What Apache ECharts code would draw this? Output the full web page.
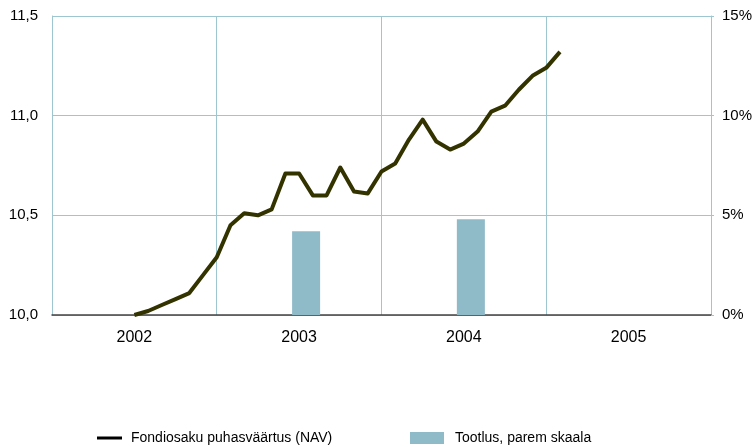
<!DOCTYPE html>
<html>
<head>
<meta charset="utf-8">
<script src="https://cdn.jsdelivr.net/npm/echarts@6/dist/echarts.min.js"></script>
<style>html,body{margin:0;padding:0;background:#fff}#c{width:755px;height:447px}</style>
</head>
<body>
<div id="c"></div>
<script>
const years = ['2002', '2003', '2004', '2005'];
const navStartMonth = 6; // first NAV point: month index counted from start of 2002
const navValues = [10.00, 10.02, 10.05, 10.08, 10.11, 10.20, 10.29, 10.45, 10.51, 10.50, 10.53, 10.71,
  10.71, 10.60, 10.60, 10.74, 10.62, 10.61, 10.72, 10.76, 10.88, 10.98, 10.87, 10.83,
  10.86, 10.92, 11.02, 11.05, 11.13, 11.20, 11.24, 11.32];
const returnValues = [null, 4.2, 4.8, null];
const emptyValues = [null, null, null, null];
const leftTicks = { min: 10, max: 11.5, interval: 0.5 };
const rightTicks = { min: 0, max: 15, interval: 5 };
const navName = 'Fondiosaku puhasväärtus (NAV)';
const retName = 'Tootlus, parem skaala';

const gridColor = '#9cc6d0';
const font = 'Liberation Sans, Arial, sans-serif';
const chart = echarts.init(document.getElementById('c'), null, { renderer: 'canvas' });
chart.setOption({
  animation: false,
  backgroundColor: '#fff',
  textStyle: { fontFamily: font },
  grid: { left: 52, right: 44, top: 16, bottom: 132 },
  legend: [
    { data: [{ name: navName, icon: 'rect' }], left: 92, top: 426, itemWidth: 25, itemHeight: 3,
      textStyle: { fontSize: 14, color: '#000', fontFamily: font, padding: [0, 0, 0, 4] } },
    { data: [{ name: retName, icon: 'rect' }], left: 405, top: 426, itemWidth: 34, itemHeight: 12,
      textStyle: { fontSize: 14, color: '#000', fontFamily: font, padding: [0, 0, 0, 6] } }
  ],
  xAxis: [
    { type: 'category', data: years, boundaryGap: true,
      axisLine: { show: true, lineStyle: { color: '#444', width: 1.5 } },
      axisTick: { show: false },
      axisLabel: { fontSize: 16, color: '#000', margin: 15, fontFamily: font },
      splitLine: { show: true, lineStyle: { color: gridColor, width: 1 } } },
    { type: 'value', min: 0, max: years.length * 12, show: false }
  ],
  yAxis: [
    { type: 'value', min: leftTicks.min, max: leftTicks.max, interval: leftTicks.interval, position: 'left',
      axisLine: { show: true, lineStyle: { color: gridColor } },
      axisTick: { show: false },
      axisLabel: { fontSize: 15, color: '#000', margin: 14, fontFamily: font,
        formatter: v => v.toFixed(1).replace('.', ',') },
      splitLine: { show: true, lineStyle: { color: gridColor } } },
    { type: 'value', min: rightTicks.min, max: rightTicks.max, interval: rightTicks.interval, position: 'right',
      axisLine: { show: true, lineStyle: { color: gridColor } },
      axisTick: { show: true, inside: false, length: 3, lineStyle: { color: gridColor } },
      axisLabel: { fontSize: 15, color: '#000', margin: 11, fontFamily: font, formatter: '{value}%' },
      splitLine: { show: false } }
  ],
  series: [
    { name: 'placeholder', type: 'bar', xAxisIndex: 0, yAxisIndex: 1, data: emptyValues, barWidth: 14, barGap: '0%',
      itemStyle: { color: 'rgba(0,0,0,0)' }, silent: true },
    { name: retName, type: 'bar', xAxisIndex: 0, yAxisIndex: 1, data: returnValues, barWidth: 28, barGap: '0%',
      itemStyle: { color: '#8fbac8' } },
    { name: navName, type: 'line', xAxisIndex: 1, yAxisIndex: 0, symbol: 'none',
      data: navValues.map((v, i) => [navStartMonth + i, v]),
      lineStyle: { color: '#333300', width: 4, join: 'round' }, itemStyle: { color: '#000' } }
  ]
});
</script>
</body>
</html>
